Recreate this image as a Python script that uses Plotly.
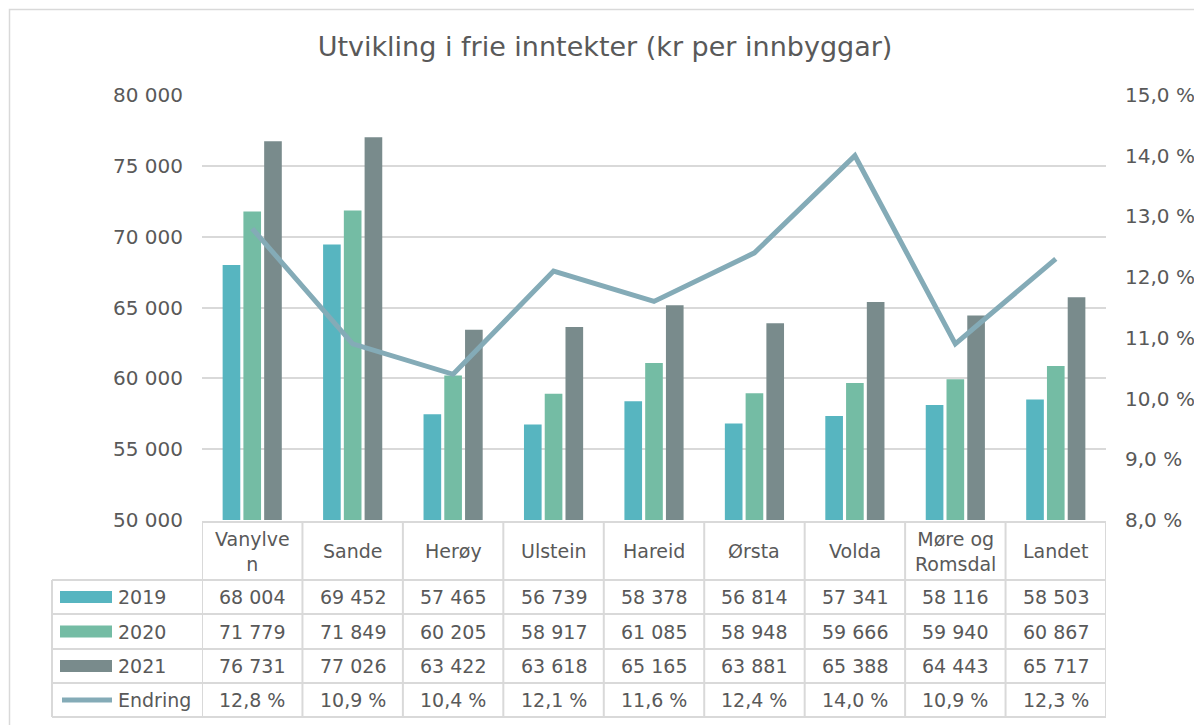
import plotly.graph_objects as go

categories = ["Vanylven", "Sande", "Herøy", "Ulstein", "Hareid", "Ørsta", "Volda", "Møre og Romsdal", "Landet"]
header_labels = ["Vanylve<br>n", "Sande", "Herøy", "Ulstein", "Hareid", "Ørsta", "Volda", "Møre og<br>Romsdal", "Landet"]
v2019 = [68004, 69452, 57465, 56739, 58378, 56814, 57341, 58116, 58503]
v2020 = [71779, 71849, 60205, 58917, 61085, 58948, 59666, 59940, 60867]
v2021 = [76731, 77026, 63422, 63618, 65165, 63881, 65388, 64443, 65717]
endring = [12.8, 10.9, 10.4, 12.1, 11.6, 12.4, 14.0, 10.9, 12.3]
series_names = ["2019", "2020", "2021"]
line_name = "Endring"
title = "Utvikling i frie inntekter (kr per innbyggar)"

C2019 = "#57B5C0"
C2020 = "#74BCA4"
C2021 = "#798B8C"
CLINE = "#84ABB7"
GRID = "#D9D9D9"
TXT = "#595959"
FONT = "DejaVu Sans"

OFF = 8  # page body margin
W, H = 1202, 725
# plot area in reference pixels
RL, RR, RT, RB = 202, 1106, 95, 520
L, R, T, B = RL - OFF, RR - OFF, RT - OFF, RB - OFF

def px(x):
    return (x - RL) / (RR - RL)

def py(y):
    return (RB - y) / (RB - RT)

idx = list(range(len(categories)))

fig = go.Figure()
for name, vals, col in zip(series_names, [v2019, v2020, v2021], [C2019, C2020, C2021]):
    fig.add_trace(go.Bar(x=idx, y=vals, name=name, marker=dict(color=col, line=dict(width=0)),
                         showlegend=False))
fig.add_trace(go.Scatter(x=idx, y=endring, name=line_name, mode="lines", yaxis="y2",
                         line=dict(color=CLINE, width=5), showlegend=False))

fig.update_layout(
    width=W, height=H,
    margin=dict(l=L, r=W - R, t=T, b=H - B, pad=0),
    paper_bgcolor="white", plot_bgcolor="white",
    separators=", ",
    font=dict(family=FONT, color=TXT, size=19),
    barmode="group", bargap=0.38, bargroupgap=0.15,
    title=dict(text=title, x=(605 - OFF) / W, xanchor="center", y=1 - (47 - OFF) / H, yanchor="middle",
               font=dict(size=27, color=TXT, family=FONT)),
    xaxis=dict(range=[-0.5, len(categories) - 0.5], showticklabels=False, showgrid=False,
               zeroline=False, showline=False, ticks=""),
    yaxis=dict(range=[50000, 80000], dtick=5000, tickformat=",d", showgrid=True,
               gridcolor=GRID, gridwidth=1.5, zeroline=False, showline=False, ticks="",
               ticklabelstandoff=18, tickfont=dict(size=20, color=TXT)),
    yaxis2=dict(range=[8, 15], dtick=1, tickformat=".1f", ticksuffix=" %", overlaying="y",
                side="right", showgrid=False, zeroline=False, showline=False, ticks="",
                ticklabelstandoff=18, tickfont=dict(size=20, color=TXT)),
)

shapes = []
annots = []
line_style = dict(color=GRID, width=2)

# chart border (left/top edges visible)
shapes.append(dict(type="rect", xref="paper", yref="paper", x0=px(9.5), x1=px(1220), y0=py(9.5), y1=py(745),
                   line=dict(color=GRID, width=1.5), fillcolor="rgba(0,0,0,0)", layer="below"))

row_y = [522, 580, 614, 649, 683, 717]
n = len(categories)
# horizontal lines
shapes.append(dict(type="line", xref="x", yref="paper", x0=-0.5, x1=n - 0.5, y0=py(row_y[0]), y1=py(row_y[0]), line=line_style))
for yy in row_y[1:]:
    shapes.append(dict(type="line", xref="paper", yref="paper", x0=px(52), x1=1, y0=py(yy), y1=py(yy), line=line_style))
# vertical lines
for i in range(n + 1):
    shapes.append(dict(type="line", xref="x", yref="paper", x0=i - 0.5, x1=i - 0.5, y0=py(row_y[0]), y1=py(row_y[-1]), line=line_style))
shapes.append(dict(type="line", xref="paper", yref="paper", x0=px(52), x1=px(52), y0=py(row_y[1]), y1=py(row_y[-1]), line=line_style))

# header labels
for i, lab in enumerate(header_labels):
    annots.append(dict(x=i, y=py((row_y[0] + row_y[1]) / 2), xref="x", yref="paper", text=lab,
                       showarrow=False, xanchor="center", yanchor="middle",
                       font=dict(size=19, color=TXT, family=FONT)))

def fmt_int(v):
    return f"{v:,}".replace(",", " ")

def fmt_pct(p):
    return f"{p:.1f}".replace(".", ",") + " %"

rows = [(series_names[0], [fmt_int(v) for v in v2019], C2019, "bar"),
        (series_names[1], [fmt_int(v) for v in v2020], C2020, "bar"),
        (series_names[2], [fmt_int(v) for v in v2021], C2021, "bar"),
        (line_name, [fmt_pct(p) for p in endring], CLINE, "line")]

for r, (name, texts, col, kind) in enumerate(rows):
    yc = (row_y[r + 1] + row_y[r + 2]) / 2
    for i, t in enumerate(texts):
        annots.append(dict(x=i, y=py(yc), xref="x", yref="paper", text=t, showarrow=False,
                           xanchor="center", yanchor="middle", font=dict(size=19, color=TXT, family=FONT)))
    if kind == "bar":
        shapes.append(dict(type="rect", xref="paper", yref="paper", x0=px(60), x1=px(112),
                           y0=py(yc - 6), y1=py(yc + 6), fillcolor=col, line=dict(width=0)))
    else:
        shapes.append(dict(type="line", xref="paper", yref="paper", x0=px(62), x1=px(112),
                           y0=py(yc), y1=py(yc), line=dict(color=col, width=5)))
    annots.append(dict(x=px(116), y=py(yc), xref="paper", yref="paper", text=name, showarrow=False,
                       xanchor="left", yanchor="middle", font=dict(size=19, color=TXT, family=FONT)))

fig.update_layout(shapes=shapes, annotations=annots)
fig.write_html("out.html")
